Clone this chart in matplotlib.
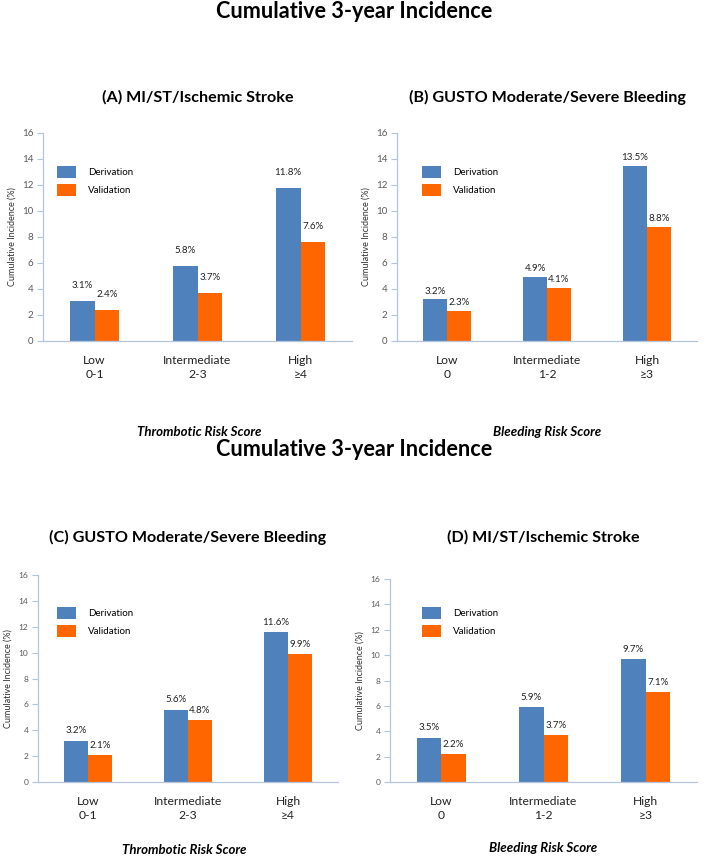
import matplotlib
matplotlib.use('Agg')
import matplotlib.pyplot as plt
import numpy as np

plt.rcParams['font.family'] = ['Lato', 'DejaVu Sans']

# Data
series_names = ['Derivation', 'Validation']
thrombotic_cats = ['Low\n0-1', 'Intermediate\n2-3', 'High\n≥4']
bleeding_cats = ['Low\n0', 'Intermediate\n1-2', 'High\n≥3']

a_deriv = [3.1, 5.8, 11.8]
a_valid = [2.4, 3.7, 7.6]
b_deriv = [3.2, 4.9, 13.5]
b_valid = [2.3, 4.1, 8.8]
c_deriv = [3.2, 5.6, 11.6]
c_valid = [2.1, 4.8, 9.9]
d_deriv = [3.5, 5.9, 9.7]
d_valid = [2.2, 3.7, 7.1]

blue = '#4f81bd'
orange = '#ff6600'
axis_col = '#b4c4dc'

W, H = 709, 856
fig = plt.figure(figsize=(W / 100, H / 100), dpi=100)


def px_axes(x0, x1, ytop, ybot):
    return fig.add_axes([x0 / W, 1 - ybot / H, (x1 - x0) / W, (ybot - ytop) / H])


def panel(ax, cats, deriv, valid, title, title_y, label_off, leg_xy, tick_fs):
    x = np.arange(len(cats))
    w = 0.24
    b1 = ax.bar(x - w / 2, deriv, w, color=blue, label=series_names[0])
    b2 = ax.bar(x + w / 2, valid, w, color=orange, label=series_names[1])
    for bars, vals in ((b1, deriv), (b2, valid)):
        for r, v in zip(bars, vals):
            ax.annotate(f'{v:.1f}%', (r.get_x() + r.get_width() / 2, v),
                        xytext=(0, label_off), textcoords='offset points',
                        ha='center', va='center', fontsize=7, color='#222222')
    ax.set_xlim(-0.5, 2.5)
    ax.set_ylim(0, 16)
    ax.set_yticks(range(0, 17, 2))
    ax.set_xticks(x)
    ax.set_xticklabels(cats, fontsize=8.7, linespacing=1.4)
    ax.tick_params(axis='x', length=0, pad=10, colors='#222222')
    ax.tick_params(axis='y', length=4, width=0.8, color=axis_col,
                   labelsize=tick_fs, labelcolor='#5a5a5a', pad=3)
    for s in ('top', 'right'):
        ax.spines[s].set_visible(False)
    for s in ('left', 'bottom'):
        ax.spines[s].set_color(axis_col)
        ax.spines[s].set_linewidth(0.9)
    ax.set_ylabel('Cumulative Incidence (%)', fontsize=6.5, color='#333333', labelpad=4)
    ax.legend(loc='upper left', bbox_to_anchor=leg_xy, frameon=False, fontsize=7,
              handlelength=2.0, handleheight=1.5, labelspacing=0.6,
              handletextpad=1.2, borderpad=0, borderaxespad=0)
    pos = ax.get_position()
    fig.text((pos.x0 + pos.x1) / 2, 1 - title_y / H, title, ha='center', va='center',
             fontsize=11.6, fontweight='bold')


axA = px_axes(43, 352, 133, 341)
panel(axA, thrombotic_cats, a_deriv, a_valid, '(A) MI/ST/Ischemic Stroke', 97, 11,
      (0.045, 0.84), 7)
axB = px_axes(397, 697, 133, 341)
panel(axB, bleeding_cats, b_deriv, b_valid, '(B) GUSTO Moderate/Severe Bleeding', 97, 6,
      (0.083, 0.84), 7)
axC = px_axes(38, 338, 575, 782)
panel(axC, thrombotic_cats, c_deriv, c_valid, '(C) GUSTO Moderate/Severe Bleeding', 537, 7,
      (0.063, 0.845), 6)
axD = px_axes(390, 697, 579, 782)
panel(axD, bleeding_cats, d_deriv, d_valid, '(D) MI/ST/Ischemic Stroke', 537, 7,
      (0.104, 0.862), 6)

# Main titles
fig.text(0.5, 1 - 12 / H, 'Cumulative 3-year Incidence', ha='center', va='center',
         fontsize=15.6, fontweight='bold')
fig.text(0.5, 1 - 450 / H, 'Cumulative 3-year Incidence', ha='center', va='center',
         fontsize=15.6, fontweight='bold')

# Score labels
fig.text(199 / W, 1 - 432 / H, 'Thrombotic Risk Score', ha='center', va='center',
         fontsize=9.5, fontweight='bold', style='italic')
fig.text(547 / W, 1 - 432 / H, 'Bleeding Risk Score', ha='center', va='center',
         fontsize=9.5, fontweight='bold', style='italic')
fig.text(184 / W, 1 - 850 / H, 'Thrombotic Risk Score', ha='center', va='center',
         fontsize=9.5, fontweight='bold', style='italic')
fig.text(543 / W, 1 - 848 / H, 'Bleeding Risk Score', ha='center', va='center',
         fontsize=9.5, fontweight='bold', style='italic')

fig.savefig('out.png', dpi=100)
